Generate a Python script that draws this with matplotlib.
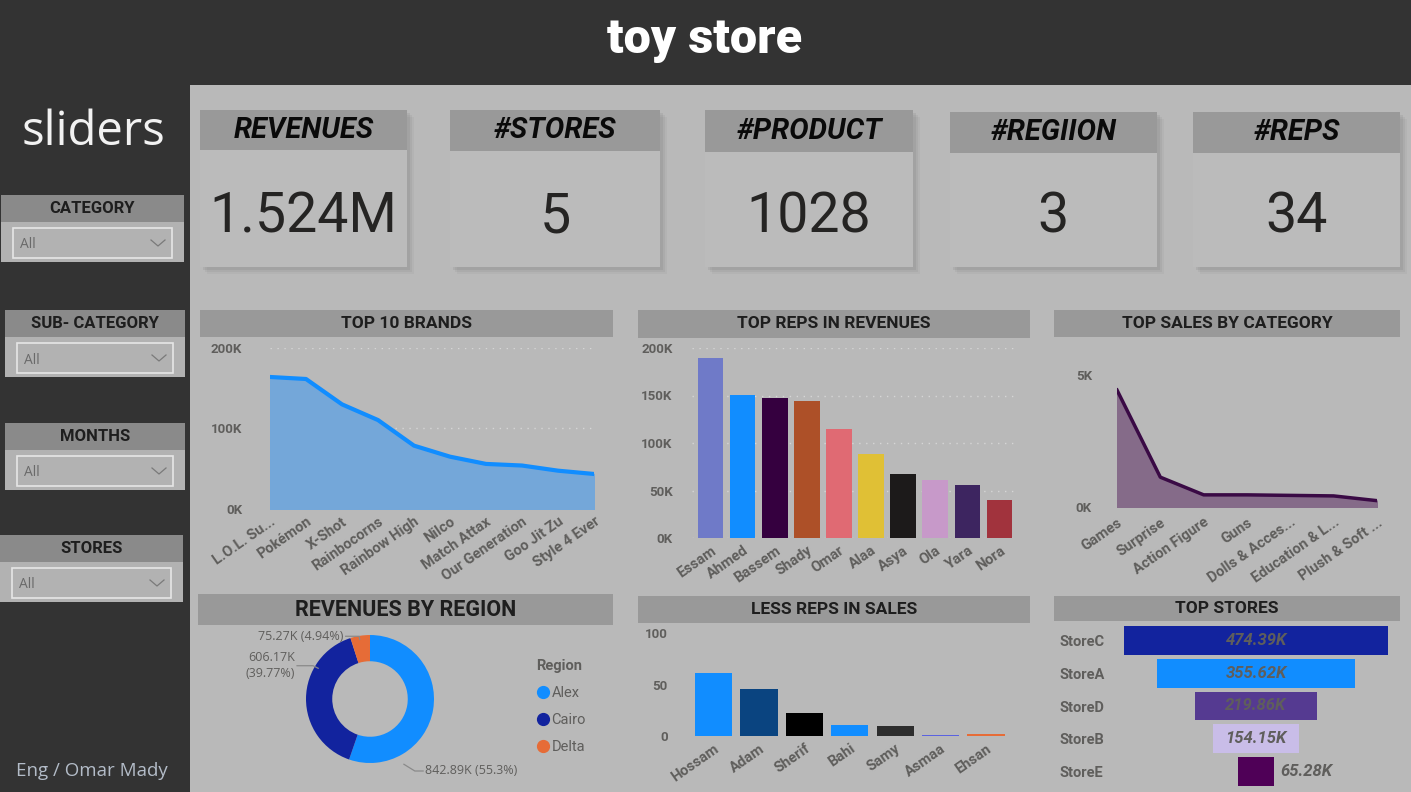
import numpy as np
import matplotlib
matplotlib.use("Agg")
import matplotlib.pyplot as plt
from matplotlib.patches import Rectangle
from matplotlib.lines import Line2D

# ---- data ----
kpi_titles = ["REVENUES", "#STORES", "#PRODUCT", "#REGIION", "#REPS"]
kpi_values = ["1.524M", "5", "1028", "3", "34"]

brands = ["L.O.L. Su...", "Pokémon", "X-Shot", "Rainbocorns", "Rainbow High",
          "Nilco", "Match Attax", "Our Generation", "Goo Jit Zu", "Style 4 Ever"]
brand_rev = [164000, 161500, 130000, 110500, 78700, 65000, 56000, 54000, 47600, 43500]

top_reps = ["Essam", "Ahmed", "Bassem", "Shady", "Omar", "Alaa", "Asya", "Ola", "Yara", "Nora"]
top_reps_rev = [189500, 151000, 147400, 144500, 115000, 88400, 67400, 61400, 55400, 40300]

categories = ["Games", "Surprise", "Action Figure", "Guns", "Dolls & Acces...",
              "Education & L...", "Plush & Soft ..."]
category_sales = [4430, 1130, 460, 460, 440, 420, 240]

regions = ["Alex", "Cairo", "Delta"]
region_rev = [842.89, 606.17, 75.27]
region_pct = [55.3, 39.77, 4.94]

less_reps = ["Hossam", "Adam", "Sherif", "Bahi", "Samy", "Asmaa", "Ehsan"]
less_reps_sales = [61, 46, 22, 11, 10, 1.2, 1.8]

stores = ["StoreC", "StoreA", "StoreD", "StoreB", "StoreE"]
store_rev = [474.39, 355.62, 219.86, 154.15, 65.28]

slicers = ["CATEGORY", "SUB- CATEGORY", "MONTHS", "STORES"]

# ---- styles ----
W, H = 1411, 792
BG = "#b9b9b9"
DARK = "#333333"
BAND = "#999999"
TICK = "#5f5e5c"
FONT = "Roboto"
XLAB = 10.5

rep_colors = ["#6f7ac8", "#118dff", "#35003f", "#ad5028", "#e06a73",
              "#e0c035", "#1c1a1a", "#c799c9", "#3d2560", "#a1333d"]
region_colors = ["#118dff", "#12239e", "#e66c37"]
less_colors = ["#118dff", "#0a4480", "#000000", "#118dff", "#2d2d2d", "#5b62e0", "#e66c37"]
store_colors = ["#12239e", "#118dff", "#553a91", "#c9bde8", "#4f0057"]

plt.rcParams["font.family"] = [FONT, "DejaVu Sans"]

fig = plt.figure(figsize=(W / 100, H / 100), dpi=100)
fig.patch.set_facecolor(BG)

bg = fig.add_axes([0, 0, 1, 1])
bg.set_xlim(0, W)
bg.set_ylim(H, 0)
bg.axis("off")


def box(x0, y0, x1, y1, color, z=1, **kw):
    bg.add_patch(Rectangle((x0, y0), x1 - x0, y1 - y0, facecolor=color,
                           edgecolor=kw.pop("ec", "none"), zorder=z, **kw))


def px_axes(x0, y0, x1, y1):
    ax = fig.add_axes([x0 / W, 1 - y1 / H, (x1 - x0) / W, (y1 - y0) / H])
    ax.patch.set_alpha(0)
    for s in ax.spines.values():
        s.set_visible(False)
    ax.tick_params(length=0, colors=TICK, labelsize=9.5)
    return ax


def style_ticks(ax, xrot=35):
    for lab in ax.get_yticklabels():
        lab.set_fontweight("bold")
        lab.set_color(TICK)
    for lab in ax.get_xticklabels():
        lab.set_fontweight("bold")
        lab.set_color(TICK)
        lab.set_fontsize(XLAB)
        lab.set_rotation(xrot)
        lab.set_ha("right")
        lab.set_rotation_mode("anchor")


def kfmt(v, pos=None):
    return f"{v / 1000:.0f}K"


# ---- header and sidebar ----
box(0, 0, W, 85, DARK)
box(0, 85, 190, H, DARK)
bg.text(705, 40, "toy store", color="white", fontsize=35, fontweight="black",
        ha="center", va="center")
bg.text(93, 132, "sliders", color="#f2f2f2", fontsize=34, ha="center", va="center",
        family=["Open Sans", "DejaVu Sans"])
bg.text(92, 771, "Eng / Omar Mady", color="#b3bcc8", fontsize=13.5, ha="center",
        va="center", family=["Open Sans", "DejaVu Sans"])

slicer_boxes = [(1, 184, 195), (5, 185, 310), (5, 185, 423), (0, 183, 535)]
for name, (sx0, sx1, sy) in zip(slicers, slicer_boxes):
    box(sx0, sy, sx1, sy + 27, "#8a8a8a", z=2)
    box(sx0, sy + 27, sx1, sy + 67, "#b2b2b2", z=2)
    box(sx0 + 12, sy + 33, sx1 - 12, sy + 63, "#b2b2b2", z=3, ec="#e6e6e6", lw=1.2)
    bg.text((sx0 + sx1) / 2, sy + 13.5, name, fontsize=12, fontweight="bold",
            color="#1e1e1e", ha="center", va="center", zorder=4)
    bg.text(sx0 + 19, sy + 50, "All", fontsize=10, color="#6a6a6a",
            va="center", zorder=4, family=["Open Sans", "DejaVu Sans"])
    cx = sx1 - 26
    bg.plot([cx - 7, cx, cx + 7], [sy + 45, sy + 51, sy + 45], color="#7a7a7a",
            lw=0.9, zorder=4)

# ---- KPI cards ----
cards = [(200, 407, 110, 150), (450, 660, 110, 151), (705, 913, 110, 152),
         (950, 1157, 112, 153), (1193, 1400, 112, 153)]
for title, val, (x0, x1, y0, yb) in zip(kpi_titles, kpi_values, cards):
    for k, a in [(7, 0.06), (5, 0.08), (3, 0.1)]:
        box(x0 + k, y0 + k, x1 + k, 267 + k, "#555555", z=1, alpha=a)
    box(x0, y0, x1, 267, "#bbbbbb", z=2)
    box(x0, y0, x1, yb, BAND, z=3)
    bg.text((x0 + x1) / 2, (y0 + yb) / 2, title, fontsize=21, fontweight="bold",
            fontstyle="italic", color="#0a0a0a", ha="center", va="center", zorder=4)
    bg.text((x0 + x1) / 2, 217, val, fontsize=40, color="#252423",
            ha="center", va="center", zorder=4)

# ---- chart title bands ----
bands = [("TOP 10 BRANDS", 200, 613, 310, 337, 12.5),
         ("TOP REPS IN REVENUES", 638, 1030, 310, 338, 12.5),
         ("TOP SALES BY CATEGORY", 1054, 1400, 310, 337, 12.5),
         ("REVENUES BY REGION", 198, 613, 594, 625, 15.5),
         ("LESS REPS IN SALES", 638, 1030, 596, 623, 12.5),
         ("TOP STORES", 1054, 1400, 596, 621, 12.5)]
for t, x0, x1, y0, y1, fs in bands:
    box(x0, y0, x1, y1, BAND, z=2)
    bg.text((x0 + x1) / 2, (y0 + y1) / 2, t, fontsize=fs, fontweight="bold",
            color="#1e1e1e", ha="center", va="center", zorder=3)

# ---- top 10 brands (area) ----
ax = px_axes(270, 348, 594, 509)
xb = np.arange(len(brands))
ax.fill_between(xb, brand_rev, color="#74a7d9", zorder=2)
ax.plot(xb, brand_rev, color="#118dff", lw=3, zorder=3)
ax.set_xlim(0, len(brands) - 1)
ax.set_ylim(0, 200000)
ax.set_yticks([0, 100000, 200000])
ax.yaxis.set_major_formatter(kfmt)
ax.set_xticks(xb, brands)
ax.grid(axis="y", color="#d6d6d6", ls=(0, (1, 4)), lw=1)
ax.tick_params(axis="y", pad=20)
ax.tick_params(axis="x", pad=4)
style_ticks(ax)

# ---- top reps in revenues (bars) ----
ax = px_axes(692, 348, 1018, 538)
xr = np.arange(len(top_reps))
ax.bar(xr, top_reps_rev, width=0.8, color=rep_colors, zorder=2)
ax.set_xlim(-0.576, len(top_reps) - 0.424)
ax.set_ylim(0, 200000)
ax.set_yticks(np.arange(0, 200001, 50000))
ax.yaxis.set_major_formatter(kfmt)
ax.set_xticks(xr, top_reps)
ax.grid(axis="y", color="#d6d6d6", ls=(0, (1, 4)), lw=1)
ax.tick_params(axis="y", pad=14)
ax.tick_params(axis="x", pad=4)
style_ticks(ax)

# ---- top sales by category (area) ----
ax = px_axes(1117, 375, 1377, 507)
xc = np.arange(len(categories))
ax.fill_between(xc, category_sales, color="#856b89", zorder=2)
ax.plot(xc, category_sales, color="#3a0a45", lw=2.5, zorder=3)
ax.set_xlim(0, len(categories) - 1)
ax.set_ylim(0, 5000)
ax.set_yticks([0, 5000])
ax.yaxis.set_major_formatter(kfmt)
ax.set_xticks(xc, categories)
ax.tick_params(axis="y", pad=18)
ax.tick_params(axis="x", pad=6)
style_ticks(ax)

# ---- revenues by region (donut) ----
ax = fig.add_axes([306 / W, 1 - 763 / H, 128 / W, 128 / H])
ax.set_aspect("equal")
wedges, _ = ax.pie(region_rev, colors=region_colors, startangle=90, counterclock=False,
                   radius=1, wedgeprops=dict(width=0.41, edgecolor="none"))
ax.set_xlim(-1, 1)
ax.set_ylim(-1, 1)
label_text = [f"{v:.2f}K ({p}%)" for v, p in zip(region_rev, region_pct)]
label_text[1] = f"{region_rev[1]:.2f}K\n({region_pct[1]}%)"
# leader lines: wedge point -> elbow -> label end
leaders = [[(0.53, -1.02), (0.70, -1.125), (0.83, -1.125)],
           [(-0.81, 0.48), (-0.89, 0.52), (-1.14, 0.52)],
           [(-0.16, 0.93), (-0.17, 0.98), (-0.38, 0.98)]]
label_ha = ["left", "right", "right"]
for txt, pts, ha in zip(label_text, leaders, label_ha):
    xs, ys_ = zip(*pts)
    ax.plot(xs, ys_, color="#8a8a8a", lw=0.9, clip_on=False)
    tx, ty = pts[-1]
    ax.text(tx + (0.03 if ha == "left" else -0.03), ty, txt, ha=ha, va="center",
            fontsize=9, color="#5f5e5c", family=["Open Sans", "DejaVu Sans"],
            linespacing=1.3)
handles = [Line2D([], [], marker="o", ls="", markersize=8.5, color=c) for c in region_colors]
leg = fig.legend(handles, regions, title="Region", loc="upper left",
                 bbox_to_anchor=(523 / W, 1 - 646 / H), frameon=False,
                 fontsize=10.5, labelspacing=0.88, handletextpad=0.05,
                 handlelength=1.0, alignment="left")
leg.get_title().set_fontweight("bold")
leg.get_title().set_color("#5f5e5c")
leg.get_title().set_fontsize(10.5)
for t in leg.get_texts():
    t.set_color("#5f5e5c")

# ---- less reps in sales (bars) ----
ax = px_axes(690, 633, 1010, 736)
xl = np.arange(len(less_reps))
ax.bar(xl, less_reps_sales, width=0.82, color=less_colors, zorder=2)
ax.set_xlim(-0.518, len(less_reps) - 0.47)
ax.set_ylim(0, 100)
ax.set_yticks([0, 50, 100])
ax.set_xticks(xl, less_reps)
ax.tick_params(axis="y", pad=16)
ax.tick_params(axis="x", pad=4)
style_ticks(ax)

# ---- top stores (funnel) ----
ax = px_axes(1112, 624, 1400, 788)
ys = np.arange(len(stores))
vals = np.array(store_rev)
ax.barh(ys, vals, left=-vals / 2, height=0.88, color=store_colors, zorder=2)
ax.set_xlim(-258.8, 258.8)
ax.set_ylim(len(stores) - 0.5, -0.5)
ax.set_xticks([])
ax.set_yticks(ys, stores)
ax.tick_params(axis="y", pad=38)
for lab in ax.get_yticklabels():
    lab.set_ha("left")
    lab.set_fontweight("bold")
    lab.set_color(TICK)
    lab.set_fontsize(10.5)
for y, v in zip(ys, vals):
    inside = v > 100
    ax.text(0 if inside else v / 2 + 12, y, f"{v:.2f}K", ha="center" if inside else "left",
            va="center", fontsize=12, fontweight="bold", fontstyle="italic",
            color="#5f5e5c", zorder=3)

fig.savefig("out.png", dpi=100, facecolor=fig.get_facecolor())
